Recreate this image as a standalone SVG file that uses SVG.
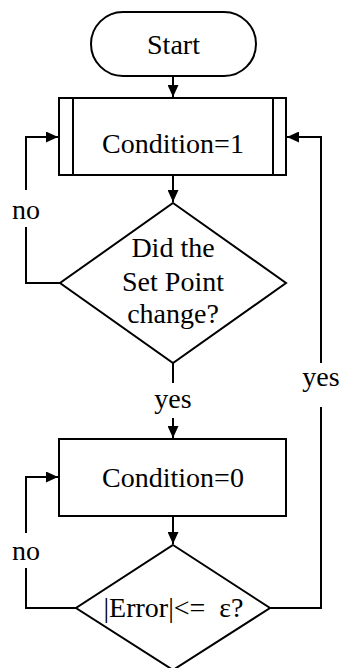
<svg xmlns="http://www.w3.org/2000/svg" width="342" height="668" viewBox="0 0 342 668">
  <style>
    .shape { fill: #ffffff; stroke: #000000; stroke-width: 2; }
    .edge { fill: none; stroke: #000000; stroke-width: 2; }
    .label { font-family: "Liberation Serif", "Times New Roman", serif; font-size: 28px; fill: #000000; text-anchor: middle; }
  </style>
  <defs>
    <marker id="arrow" markerUnits="userSpaceOnUse" markerWidth="12" markerHeight="11" refX="12" refY="5.5" orient="auto">
      <path d="M0,0 L12,5.5 L0,11 z" fill="#000000"/>
    </marker>
  </defs>
  <rect width="342" height="668" fill="#ffffff"/>

  <!-- connectors -->
  <g id="connectors">
    <line class="edge" x1="173" y1="76" x2="173" y2="97" marker-end="url(#arrow)"/>
    <line class="edge" x1="173" y1="175" x2="173" y2="202" marker-end="url(#arrow)"/>
    <line class="edge" x1="173" y1="363" x2="173" y2="383"/>
    <line class="edge" x1="173" y1="418" x2="173" y2="438" marker-end="url(#arrow)"/>
    <line class="edge" x1="173" y1="516" x2="173" y2="544" marker-end="url(#arrow)"/>
    <!-- "no" loop back to Condition=1 -->
    <polyline class="edge" points="60,283 26,283 26,227"/>
    <polyline class="edge" points="26,190 26,137 58,137" marker-end="url(#arrow)"/>
    <!-- "yes" loop back to Condition=1 -->
    <polyline class="edge" points="270,608 321,608 321,407"/>
    <polyline class="edge" points="321,363 321,137 287,137" marker-end="url(#arrow)"/>
    <!-- "no" loop back to Condition=0 -->
    <polyline class="edge" points="76,608 26,608 26,568"/>
    <polyline class="edge" points="26,533 26,477 58,477" marker-end="url(#arrow)"/>
    <text class="label" x="26" y="219">no</text>
    <text class="label" x="26" y="560">no</text>
    <text class="label" x="173" y="408">yes</text>
    <text class="label" x="321" y="386">yes</text>
  </g>

  <g id="start">
    <rect class="shape" x="91" y="12" width="165" height="64" rx="32" ry="32"/>
    <text class="label" x="173.5" y="54">Start</text>
  </g>

  <g id="condition1">
    <rect class="shape" x="59" y="98" width="227" height="77"/>
    <line class="edge" x1="73" y1="98" x2="73" y2="175"/>
    <line class="edge" x1="273" y1="98" x2="273" y2="175"/>
    <text class="label" x="173" y="153">Condition=1</text>
  </g>

  <g id="setpoint-decision">
    <polygon class="shape" points="173,203 286,283 173,363 60,283"/>
    <text class="label" x="173" y="257">Did the</text>
    <text class="label" x="173" y="291">Set Point</text>
    <text class="label" x="173" y="323">change?</text>
  </g>

  <g id="condition0">
    <rect class="shape" x="59" y="439" width="227" height="77"/>
    <text class="label" x="173" y="487">Condition=0</text>
  </g>

  <g id="error-decision">
    <polygon class="shape" points="173,545 270,608 173,670 76,608"/>
    <text class="label" x="173.5" y="617" xml:space="preserve">|Error|&lt;=  ε?</text>
  </g>
</svg>
